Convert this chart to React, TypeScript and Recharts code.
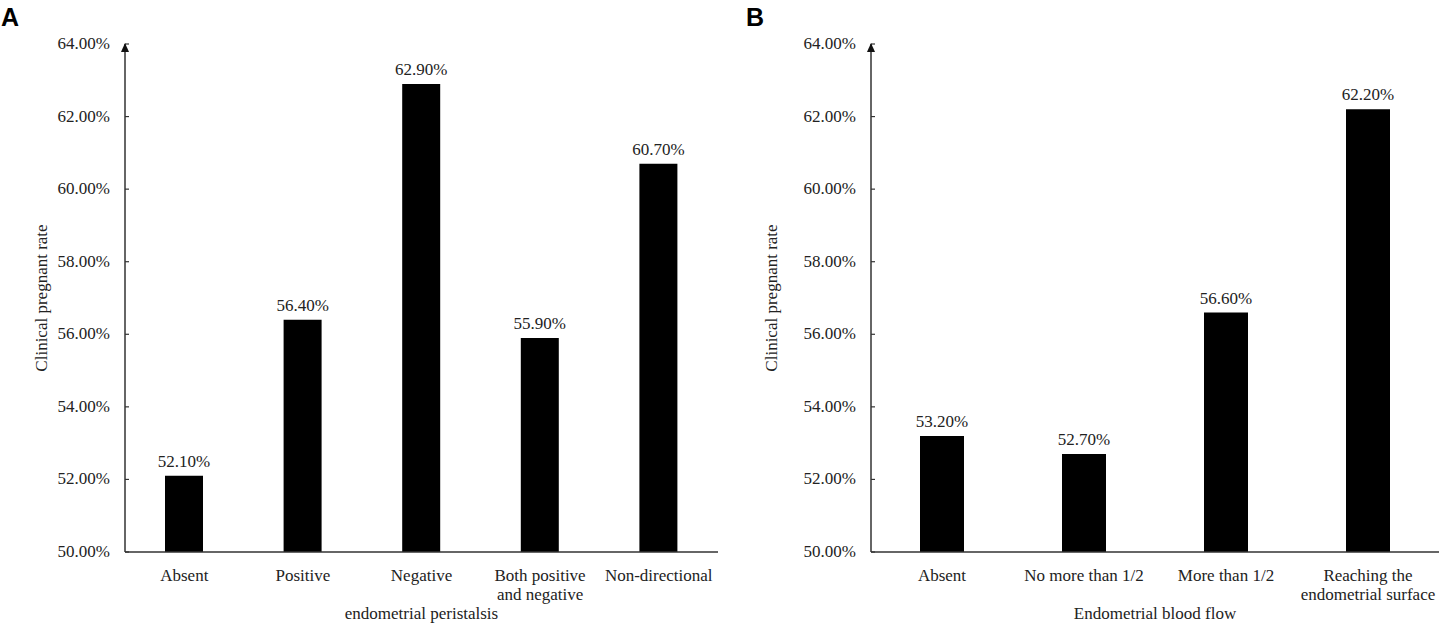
import { BarChart, Bar, XAxis, YAxis, LabelList, Label } from 'recharts';

// panel A – endometrial peristalsis
const peristalsisCats = ['Absent', 'Positive', 'Negative', 'Both positive\nand negative', 'Non-directional'];
const peristalsisRates = [52.1, 56.4, 62.9, 55.9, 60.7];

// panel B – endometrial blood flow
const bloodFlowCats = ['Absent', 'No more than 1/2', 'More than 1/2', 'Reaching the\nendometrial surface'];
const bloodFlowRates = [53.2, 52.7, 56.6, 62.2];

const yTicks = [50, 52, 54, 56, 58, 60, 62, 64];

const FONT = '"Liberation Serif", "Times New Roman", serif';
const FS = 17;
const AXIS = '#333';

// y tick: label to the left, short inside tick to the right, arrow head on the top tick
function YTick({ x, y, payload }: any) {
    const v = payload.value;
    return (
        <g>
            <line x1={x} y1={y} x2={x + 4} y2={y} stroke={AXIS} strokeWidth={1.2} />
            <text x={x - 15} y={y} dy={5} textAnchor="end" fontFamily={FONT} fontSize={FS} fill="#222">
                {v.toFixed(2)}%
            </text>
            {v === 64 && <polygon points={`${x},${y - 1} ${x - 4},${y + 8} ${x + 4},${y + 8}`} fill="#111" />}
        </g>
    );
}

// category ticks may wrap onto two lines
function XTick({ x, y, payload }: any) {
    const lines = String(payload.value).split('\n');
    return (
        <text x={x} y={y} textAnchor="middle" fontFamily={FONT} fontSize={FS} fill="#222">
            {lines.map((l, i) => (
                <tspan key={i} x={x} dy={i === 0 ? 27 : 19}>{l}</tspan>
            ))}
        </text>
    );
}

function YTitle({ viewBox }: any) {
    const cx = viewBox.x + 42;
    const cy = viewBox.y + viewBox.height / 2;
    return (
        <text x={cx} y={cy} transform={`rotate(-90, ${cx}, ${cy})`} textAnchor="middle" dy={5}
            fontFamily={FONT} fontSize={FS} fill="#222">
            Clinical  pregnant rate
        </text>
    );
}

function Panel({ cats, rates, title, width, yWidth, barSize }: any) {
    const data = cats.map((c: string, i: number) => ({ cat: c, rate: rates[i] }));
    return (
        <BarChart width={width} height={629} data={data} margin={{ top: 44, right: 4, bottom: 0, left: 0 }}
            barCategoryGap={0}>
            <XAxis dataKey="cat" height={77} interval={0} tick={<XTick />} tickLine={false} tickSize={0}
                axisLine={{ stroke: AXIS, strokeWidth: 1.5 }}>
                <Label value={title} position="insideBottom" offset={10} fontFamily={FONT} fontSize={FS} fill="#222" />
            </XAxis>
            <YAxis domain={[50, 64]} ticks={yTicks} width={yWidth} tick={<YTick />} tickLine={false}
                tickSize={0} tickMargin={0} allowDataOverflow axisLine={{ stroke: AXIS, strokeWidth: 1.5 }}>
                <Label content={<YTitle />} />
            </YAxis>
            <Bar dataKey="rate" fill="#000" barSize={barSize} isAnimationActive={false}>
                <LabelList dataKey="rate" position="top" offset={9} fontFamily={FONT} fontSize={FS} fill="#222"
                    formatter={(v: any) => `${Number(v).toFixed(2)}%`} />
            </Bar>
        </BarChart>
    );
}

export default function App() {
    return (
        <div style={{ position: 'absolute', left: 0, top: 0, width: 1443, height: 629, background: '#fff' }}>
            <div style={{ position: 'absolute', left: 1, top: 3, fontFamily: '"Liberation Sans", Arial, sans-serif', fontWeight: 'bold', fontSize: 25 }}>A</div>
            <div style={{ position: 'absolute', left: 746, top: 3, fontFamily: '"Liberation Sans", Arial, sans-serif', fontWeight: 'bold', fontSize: 25 }}>B</div>
            <div style={{ position: 'absolute', left: 0, top: 0 }}>
                <Panel cats={peristalsisCats} rates={peristalsisRates} title="endometrial peristalsis"
                    width={722} yWidth={125} barSize={38} />
            </div>
            <div style={{ position: 'absolute', left: 730, top: 0 }}>
                <Panel cats={bloodFlowCats} rates={bloodFlowRates} title="Endometrial blood flow"
                    width={713} yWidth={141} barSize={44} />
            </div>
        </div>
    );
}
